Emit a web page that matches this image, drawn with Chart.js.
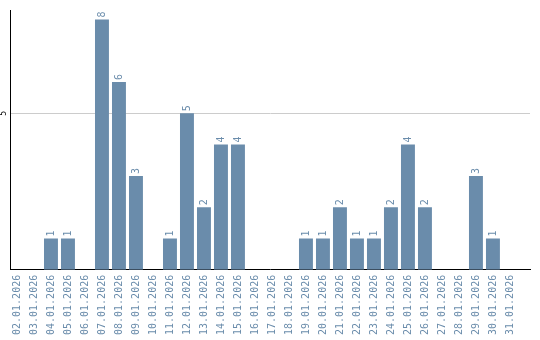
<!DOCTYPE html>
<html>
<head>
<meta charset="utf-8">
<script src="https://cdn.jsdelivr.net/npm/chart.js@4"></script>
<style>
  body { margin: 0; background: #fff; }
  #wrap { width: 540px; height: 340px; }
</style>
</head>
<body>
<div id="wrap"><canvas id="myChart"></canvas></div>
<script>
var days = ['02.01.2026','03.01.2026','04.01.2026','05.01.2026','06.01.2026','07.01.2026','08.01.2026','09.01.2026','10.01.2026','11.01.2026',
  '12.01.2026','13.01.2026','14.01.2026','15.01.2026','16.01.2026','17.01.2026','18.01.2026','19.01.2026','20.01.2026','21.01.2026',
  '22.01.2026','23.01.2026','24.01.2026','25.01.2026','26.01.2026','27.01.2026','28.01.2026','29.01.2026','30.01.2026','31.01.2026'];
var counts = [0,0,1,1,0,8,6,3,0,1, 5,2,4,4,0,0,0,1,1,2, 1,1,2,4,2,0,0,3,1,0];
var yTicks = [5];

var barColor = '#6a8cab';
var textColor = '#6a8cab';

// draws the rotated value labels and the y tick label
var rotatedLabels = {
  id: 'rotatedLabels',
  afterDatasetsDraw: function(chart) {
    var ctx = chart.ctx;
    var meta = chart.getDatasetMeta(0);
    ctx.save();
    ctx.font = '10px "DejaVu Sans Mono"';
    ctx.fillStyle = textColor;
    ctx.textAlign = 'left';
    ctx.textBaseline = 'middle';
    meta.data.forEach(function(bar, i) {
      if (!counts[i]) return;
      ctx.save();
      ctx.translate(bar.x, bar.y - 2);
      ctx.rotate(-Math.PI / 2);
      ctx.fillText(String(counts[i]), 0, 0);
      ctx.restore();
    });
    var y = chart.scales.y;
    ctx.fillStyle = '#000';
    ctx.font = '8px "DejaVu Sans Mono"';
    ctx.textAlign = 'center';
    yTicks.forEach(function(t) {
      ctx.save();
      ctx.translate(y.left - 6, y.getPixelForValue(t));
      ctx.rotate(-Math.PI / 2);
      ctx.fillText(String(t), 0, 0);
      ctx.restore();
    });
    ctx.restore();
  }
};

var ctx = document.getElementById('myChart');
var myChart = new Chart(ctx, {
  type: 'bar',
  data: {
    datasets: [{
      data: counts.map(function(v, i) { return { x: i, y: v }; }),
      backgroundColor: barColor,
      borderWidth: 0,
      barPercentage: 0.82,
      categoryPercentage: 1
    }]
  },
  options: {
    responsive: true,
    maintainAspectRatio: false,
    animation: false,
    layout: { padding: { left: 10, top: 10, right: 10, bottom: 0 } },
    plugins: { legend: { display: false }, tooltip: { enabled: false } },
    scales: {
      x: {
        type: 'linear',
        offset: false,
        min: -0.41,
        max: 30.18,
        afterBuildTicks: function(scale) {
          scale.ticks = days.map(function(d, i) { return { value: i }; });
        },
        grid: { display: false, drawTicks: false },
        border: { color: '#000', width: 1 },
        ticks: {
          color: textColor,
          font: { size: 10, family: '"DejaVu Sans Mono"' },
          minRotation: 90,
          maxRotation: 90,
          autoSkip: false,
          padding: 5,
          callback: function(value) { return days[value]; }
        }
      },
      y: {
        min: 0,
        max: 8.3,
        afterBuildTicks: function(scale) {
          scale.ticks = yTicks.map(function(v) { return { value: v }; });
        },
        grid: { color: '#cccccc', drawTicks: false },
        border: { color: '#000', width: 1 },
        ticks: { display: false }
      }
    }
  },
  plugins: [rotatedLabels]
});
</script>
</body>
</html>
